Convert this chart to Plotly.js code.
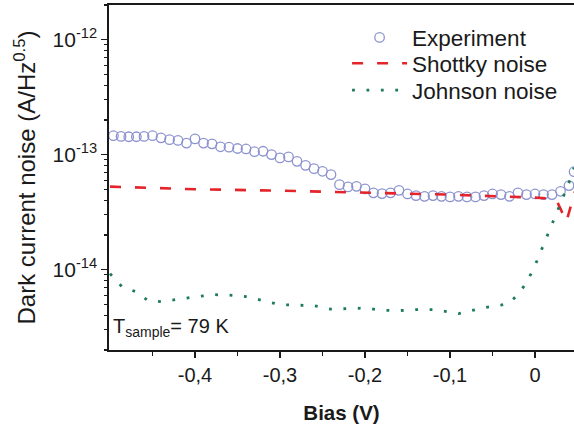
<!DOCTYPE html>
<html>
<head>
<meta charset="utf-8">
<script src="https://cdn.plot.ly/plotly-3.0.1.min.js"></script>
<style>html,body{margin:0;padding:0;background:#fff;}#chart{width:574px;height:428px;}</style>
</head>
<body>
<div id="chart"></div>
<script>
// ---- Data ----
const expBias = [-0.496, -0.487, -0.478, -0.469, -0.46, -0.45, -0.44, -0.43, -0.42, -0.41,
  -0.40, -0.39, -0.38, -0.37, -0.36, -0.35, -0.34, -0.33, -0.32, -0.31,
  -0.30, -0.29, -0.28, -0.27, -0.26, -0.25, -0.24, -0.23, -0.22, -0.21,
  -0.20, -0.19, -0.18, -0.17, -0.16, -0.15, -0.14, -0.13, -0.12, -0.11,
  -0.10, -0.09, -0.08, -0.07, -0.06, -0.05, -0.04, -0.03, -0.02, -0.01,
  0.00, 0.01, 0.02, 0.03, 0.04, 0.046];
const expNoise = [1.46e-13, 1.44e-13, 1.43e-13, 1.43e-13, 1.44e-13, 1.46e-13, 1.40e-13, 1.35e-13, 1.33e-13, 1.26e-13,
  1.37e-13, 1.26e-13, 1.24e-13, 1.17e-13, 1.16e-13, 1.13e-13, 1.12e-13, 1.06e-13, 1.07e-13, 1.00e-13,
  9.36e-14, 9.55e-14, 8.74e-14, 8.07e-14, 7.55e-14, 7.16e-14, 6.70e-14, 5.48e-14, 5.24e-14, 5.30e-14,
  5.03e-14, 4.65e-14, 4.58e-14, 4.65e-14, 4.89e-14, 4.55e-14, 4.40e-14, 4.34e-14, 4.40e-14, 4.34e-14,
  4.29e-14, 4.34e-14, 4.29e-14, 4.29e-14, 4.40e-14, 4.55e-14, 4.49e-14, 4.34e-14, 4.65e-14, 4.49e-14,
  4.55e-14, 4.49e-14, 4.49e-14, 4.80e-14, 5.38e-14, 7.10e-14];

const shotBias  = [-0.5, -0.4, -0.3, -0.2, -0.1, 0.0, 0.02, 0.025, 0.037, 0.047];
const shotNoise = [5.27e-14, 5.00e-14, 4.86e-14, 4.67e-14, 4.49e-14, 4.23e-14, 4.14e-14, 4.05e-14, 2.62e-14, 4.77e-14];

const johnBias = [-0.5, -0.486, -0.47, -0.455, -0.44, -0.42, -0.40, -0.38, -0.36, -0.34,
  -0.32, -0.30, -0.28, -0.26, -0.24, -0.22, -0.20, -0.18, -0.16, -0.14,
  -0.12, -0.10, -0.09, -0.08, -0.06, -0.04, -0.03, -0.02, -0.01, 0.00,
  0.01, 0.02, 0.03, 0.04, 0.046];
const johnNoise = [9.23e-15, 7.11e-15, 6.44e-15, 5.37e-15, 5.27e-15, 5.54e-15, 5.82e-15, 6.06e-15, 6.00e-15, 5.82e-15,
  5.37e-15, 4.96e-15, 4.91e-15, 4.86e-15, 4.53e-15, 4.58e-15, 4.63e-15, 4.44e-15, 4.40e-15, 4.49e-15,
  4.49e-15, 4.27e-15, 4.14e-15, 4.31e-15, 4.67e-15, 4.91e-15, 5.16e-15, 6.06e-15, 7.71e-15, 1.083e-14,
  1.65e-14, 2.51e-14, 3.82e-14, 5.71e-14, 7.71e-14];

const xTickVals = [-0.4, -0.3, -0.2, -0.1, 0];
const xTickText = ["-0,4", "-0,3", "-0,2", "-0,1", "0"];
const xMinorVals = [-0.45, -0.35, -0.25, -0.15, -0.05];
const yTickVals = [1e-14, 1e-13, 1e-12];
const yTickText = ["10<sup>-14</sup>", "10<sup>-13</sup>", "10<sup>-12</sup>"];
const seriesNames = ["Experiment", "Shottky noise", "Johnson noise"];

// minor log ticks 2..9 per decade
const yMinorVals = [];
[1e-15, 1e-14, 1e-13, 1e-12].forEach(d => { for (let m = 2; m <= 9; m++) yMinorVals.push(m * d); });

const FONT = "Liberation Sans, Arial, Helvetica, sans-serif";

const traces = [
  { x: expBias, y: expNoise, name: seriesNames[0], type: "scatter", mode: "markers", legend: "legend",
    marker: { symbol: "circle-open", size: 9.5, color: "#8d93cf", line: { width: 1.3 } } },
  { x: shotBias, y: shotNoise, name: seriesNames[1], type: "scatter", mode: "lines", legend: "legend2",
    line: { color: "#e3242b", width: 2.6, dash: "11px,14px" } },
  { x: johnBias, y: johnNoise, name: seriesNames[2], type: "scatter", mode: "lines", legend: "legend3",
    line: { color: "#1d7a5a", width: 2.8, dash: "2.8px,11.6px" } }
];

function legendAt(yPaper) {
  return { x: 0.512, y: yPaper, xanchor: "left", yanchor: "middle", bgcolor: "rgba(0,0,0,0)",
    font: { family: FONT, size: 22.5, color: "#1a1a1a" }, itemwidth: 55, tracegroupgap: 0 };
}

const layout = {
  width: 574, height: 428,
  margin: { l: 109, r: 0, t: 5, b: 78 },
  paper_bgcolor: "#fff", plot_bgcolor: "#fff",
  separators: ",.",
  font: { family: FONT, color: "#1a1a1a", size: 18 },
  showlegend: true,
  legend: legendAt(0.905),
  legend2: legendAt(0.830),
  legend3: legendAt(0.752),
  xaxis: {
    range: [-0.5012, 0.0459], showgrid: false, zeroline: false,
    showline: true, linecolor: "#1a1a1a", linewidth: 1.6, mirror: true,
    ticks: "outside", ticklen: 6, tickwidth: 1.4, tickcolor: "#1a1a1a",
    tickmode: "array", tickvals: xTickVals, ticktext: xTickText,
    tickfont: { family: FONT, size: 20, color: "#1a1a1a" },
    minor: { tickmode: "array", tickvals: xMinorVals, ticks: "outside", ticklen: 4, tickwidth: 1.2, tickcolor: "#1a1a1a" },
    title: { text: "<b>Bias (V)</b>", font: { family: FONT, size: 20.5, color: "#1a1a1a" }, standoff: 21 }
  },
  yaxis: {
    type: "log", range: [Math.log10(2e-15), Math.log10(2e-12)], showgrid: false, zeroline: false,
    showline: true, linecolor: "#1a1a1a", linewidth: 1.6,
    ticks: "outside", ticklen: 6, tickwidth: 1.4, tickcolor: "#1a1a1a",
    tickmode: "array", tickvals: yTickVals, ticktext: yTickText,
    tickfont: { family: FONT, size: 21, color: "#1a1a1a" },
    minor: { tickmode: "array", tickvals: yMinorVals, ticks: "outside", ticklen: 3.5, tickwidth: 1.2, tickcolor: "#1a1a1a" },
    title: { text: "Dark current noise (A/Hz<sup>0.5</sup>)", font: { family: FONT, size: 24, color: "#1a1a1a" }, standoff: 10 }
  },
  annotations: [
    { xref: "paper", yref: "paper", x: 0.004, y: 0.065, xanchor: "left", yanchor: "middle",
      text: "T<sub>sample</sub>= 79 K", showarrow: false, font: { family: FONT, size: 20, color: "#1a1a1a" } }
  ]
};

Plotly.newPlot("chart", traces, layout, { displayModeBar: false, staticPlot: true });
</script>
</body>
</html>
